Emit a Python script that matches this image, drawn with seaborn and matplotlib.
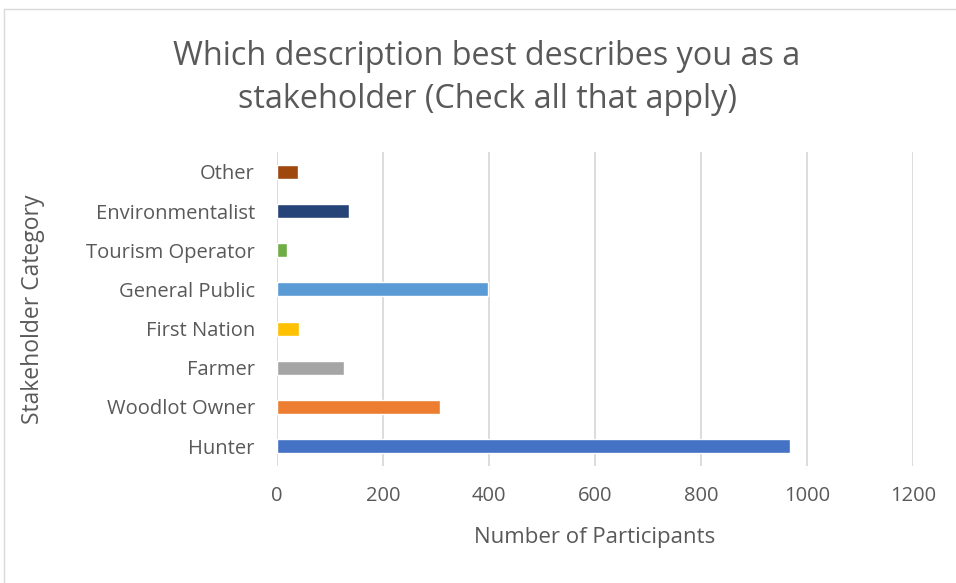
import pandas as pd
import matplotlib
matplotlib.use('Agg')
import matplotlib.pyplot as plt
import matplotlib.patches as mpatches
import seaborn as sns

# --- Data ---
categories = ['Other', 'Environmentalist', 'Tourism Operator', 'General Public',
              'First Nation', 'Farmer', 'Woodlot Owner', 'Hunter']
participants = [40, 136, 19, 398, 41, 126, 308, 968]
bar_colors = ['#9E480E', '#264478', '#70AD47', '#5B9BD5',
              '#FFC000', '#A5A5A5', '#ED7D31', '#4472C4']
x_ticks = [0, 200, 400, 600, 800, 1000, 1200]

TEXT = '#595959'

# --- Styling ---
sns.set_theme(style="white")
plt.rcParams['font.family'] = ['Open Sans', 'DejaVu Sans']

df = pd.DataFrame({'category': categories, 'count': participants})

fig = plt.figure(figsize=(9.56, 5.83), dpi=100)
ax = fig.add_axes([277 / 956, 1 - 465.6 / 583, 636 / 956, 313.2 / 583])

sns.barplot(data=df, x='count', y='category', hue='category', order=categories,
            palette=dict(zip(categories, bar_colors)), width=0.36, saturation=1,
            legend=False, ax=ax)

ax.set_xlim(0, 1200)
ax.set_xticks(x_ticks)
ax.grid(axis='x', color='#d9d9d9', linewidth=1.3)
ax.set_axisbelow(True)
for s in ax.spines.values():
    s.set_visible(False)
ax.tick_params(axis='both', length=0, labelsize=14.5, colors=TEXT)
ax.tick_params(axis='y', pad=16)
ax.tick_params(axis='x', pad=15)

ax.set_xlabel('Number of Participants', fontsize=16, color=TEXT, va='center')
ax.set_ylabel('Stakeholder Category', fontsize=16.5, color=TEXT, va='center')
ax.xaxis.set_label_coords(0.5, -0.228)
ax.yaxis.set_label_coords(-0.384, 0.5)

fig.text(487 / 956, 1 - 78 / 583,
         'Which description best describes you as a\nstakeholder (Check all that apply)',
         ha='center', va='center', fontsize=23.3, color=TEXT, linespacing=1.4)

# chart area border
fig.patches.append(mpatches.Rectangle((4 / 956, -0.01), 1.0, 1 - 9 / 583 + 0.01,
                                      transform=fig.transFigure, fill=False,
                                      edgecolor='#d9d9d9', linewidth=1))

fig.savefig('out.png', dpi=100)
